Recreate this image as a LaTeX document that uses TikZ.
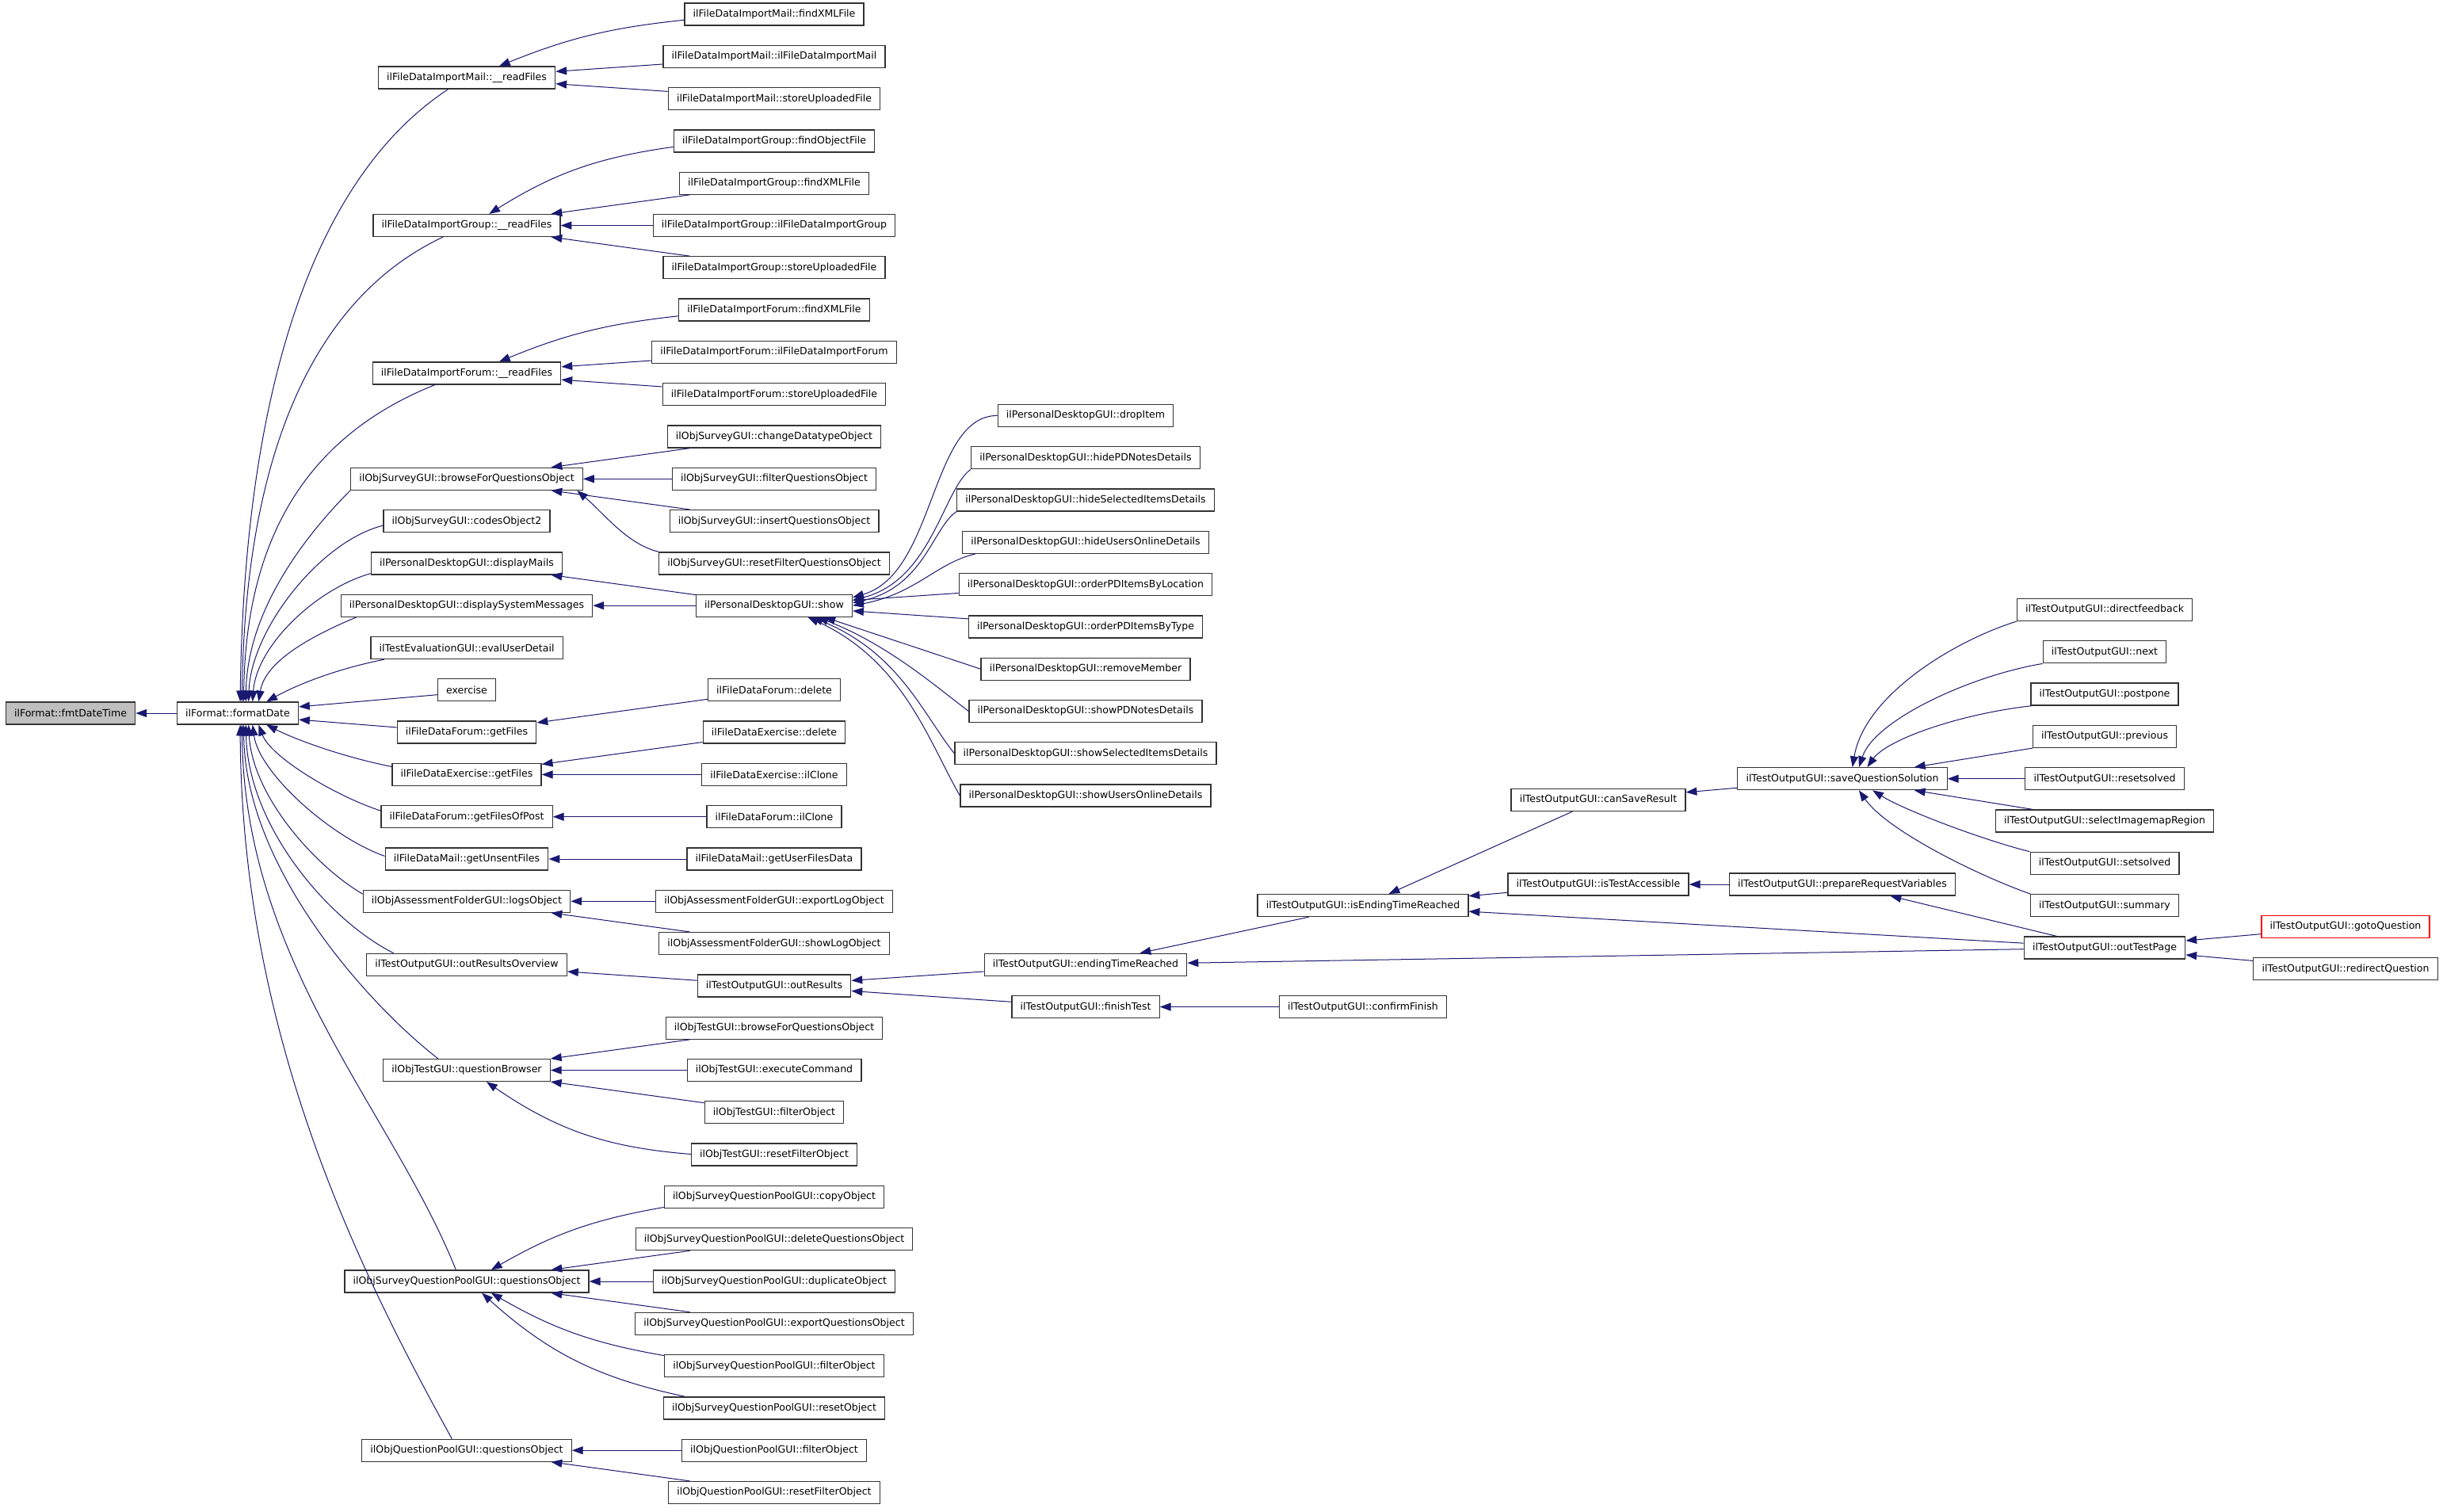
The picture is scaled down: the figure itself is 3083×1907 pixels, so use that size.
\documentclass[tikz,border=0pt]{standalone}
\usepackage{fontspec}
\setmainfont{DejaVu Sans}
\usetikzlibrary{arrows.meta}
\definecolor{edgeblue}{HTML}{191970}

\tikzset{
  fn/.style={draw=black!80, line width=1pt, fill=white, minimum height=0.784cm,
    inner xsep=8.5pt, inner ysep=0pt, font=\fontsize{10}{12}\selectfont},
  fnroot/.style={fn, fill=black!25},
  fnlink/.style={fn, draw=red},
  call/.style={->, draw=edgeblue, line width=0.8pt},
}

\begin{document}
\begin{tikzpicture}[x=0.028cm, y=-0.028cm, >={Triangle[length=11pt,width=8pt]}]
    \useasboundingbox (0,0) rectangle (3083,1907);

    % The function itself and its only caller
    \node[fnroot] (fmtDateTime) at (89,900) {ilFormat::fmtDateTime};
    \node[fn] (formatDate) at (300,900) {ilFormat::formatDate};

    % Callers of formatDate
    \node[fn] (readMail) at (589,98) {ilFileDataImportMail::\_\_readFiles};
    \node[fn] (readGroup) at (589,284.5) {ilFileDataImportGroup::\_\_readFiles};
    \node[fn] (readForum) at (589,471) {ilFileDataImportForum::\_\_readFiles};
    \node[fn] (browseSurvey) at (589,604.3) {ilObjSurveyGUI::browseForQuestionsObject};
    \node[fn] (codesObject) at (589,657.6) {ilObjSurveyGUI::codesObject2};
    \node[fn] (displayMails) at (589,710.9) {ilPersonalDesktopGUI::displayMails};
    \node[fn] (displaySysMsg) at (589,764.2) {ilPersonalDesktopGUI::displaySystemMessages};
    \node[fn] (evalUserDetail) at (589,817.5) {ilTestEvaluationGUI::evalUserDetail};
    \node[fn] (exercise) at (589,870.8) {exercise};
    \node[fn] (forumGetFiles) at (589,924.1) {ilFileDataForum::getFiles};
    \node[fn] (exGetFiles) at (589,977.4) {ilFileDataExercise::getFiles};
    \node[fn] (getFilesOfPost) at (589,1030.7) {ilFileDataForum::getFilesOfPost};
    \node[fn] (getUnsentFiles) at (589,1084) {ilFileDataMail::getUnsentFiles};
    \node[fn] (logsObject) at (589,1137.3) {ilObjAssessmentFolderGUI::logsObject};
    \node[fn] (outResultsOverview) at (589,1217.3) {ilTestOutputGUI::outResultsOverview};
    \node[fn] (questionBrowser) at (589,1350.5) {ilObjTestGUI::questionBrowser};
    \node[fn] (sqpQuestions) at (589,1617) {ilObjSurveyQuestionPoolGUI::questionsObject};
    \node[fn] (qpQuestions) at (589,1830.2) {ilObjQuestionPoolGUI::questionsObject};

    % Third column
    \node[fn] (mailFindXML) at (977,18) {ilFileDataImportMail::findXMLFile};
    \node[fn] (mailCtor) at (977,71.3) {ilFileDataImportMail::ilFileDataImportMail};
    \node[fn] (mailStore) at (977,124.6) {ilFileDataImportMail::storeUploadedFile};
    \node[fn] (groupFindObject) at (977,177.9) {ilFileDataImportGroup::findObjectFile};
    \node[fn] (groupFindXML) at (977,231.2) {ilFileDataImportGroup::findXMLFile};
    \node[fn] (groupCtor) at (977,284.5) {ilFileDataImportGroup::ilFileDataImportGroup};
    \node[fn] (groupStore) at (977,337.8) {ilFileDataImportGroup::storeUploadedFile};
    \node[fn] (forumFindXML) at (977,391.1) {ilFileDataImportForum::findXMLFile};
    \node[fn] (forumCtor) at (977,444.4) {ilFileDataImportForum::ilFileDataImportForum};
    \node[fn] (forumStore) at (977,497.7) {ilFileDataImportForum::storeUploadedFile};
    \node[fn] (changeDatatype) at (977,551) {ilObjSurveyGUI::changeDatatypeObject};
    \node[fn] (filterQuestions) at (977,604.3) {ilObjSurveyGUI::filterQuestionsObject};
    \node[fn] (insertQuestions) at (977,657.6) {ilObjSurveyGUI::insertQuestionsObject};
    \node[fn] (resetFilterQuestions) at (977,710.9) {ilObjSurveyGUI::resetFilterQuestionsObject};
    \node[fn] (show) at (977,764.2) {ilPersonalDesktopGUI::show};
    \node[fn] (forumDelete) at (977,870.8) {ilFileDataForum::delete};
    \node[fn] (exDelete) at (977,924.1) {ilFileDataExercise::delete};
    \node[fn] (exClone) at (977,977.4) {ilFileDataExercise::ilClone};
    \node[fn] (forumClone) at (977,1030.7) {ilFileDataForum::ilClone};
    \node[fn] (getUserFilesData) at (977,1084) {ilFileDataMail::getUserFilesData};
    \node[fn] (exportLog) at (977,1137.3) {ilObjAssessmentFolderGUI::exportLogObject};
    \node[fn] (showLog) at (977,1190.6) {ilObjAssessmentFolderGUI::showLogObject};
    \node[fn] (outResults) at (977,1243.9) {ilTestOutputGUI::outResults};
    \node[fn] (testBrowse) at (977,1297.2) {ilObjTestGUI::browseForQuestionsObject};
    \node[fn] (testExecute) at (977,1350.5) {ilObjTestGUI::executeCommand};
    \node[fn] (testFilter) at (977,1403.8) {ilObjTestGUI::filterObject};
    \node[fn] (testResetFilter) at (977,1457.1) {ilObjTestGUI::resetFilterObject};
    \node[fn] (sqpCopy) at (977,1510.4) {ilObjSurveyQuestionPoolGUI::copyObject};
    \node[fn] (sqpDelete) at (977,1563.7) {ilObjSurveyQuestionPoolGUI::deleteQuestionsObject};
    \node[fn] (sqpDuplicate) at (977,1617) {ilObjSurveyQuestionPoolGUI::duplicateObject};
    \node[fn] (sqpExport) at (977,1670.3) {ilObjSurveyQuestionPoolGUI::exportQuestionsObject};
    \node[fn] (sqpFilter) at (977,1723.6) {ilObjSurveyQuestionPoolGUI::filterObject};
    \node[fn] (sqpReset) at (977,1776.9) {ilObjSurveyQuestionPoolGUI::resetObject};
    \node[fn] (qpFilter) at (977,1830.2) {ilObjQuestionPoolGUI::filterObject};
    \node[fn] (qpResetFilter) at (977,1883.5) {ilObjQuestionPoolGUI::resetFilterObject};

    % Fourth column
    \node[fn] (dropItem) at (1370,524.4) {ilPersonalDesktopGUI::dropItem};
    \node[fn] (hidePDNotes) at (1370,577.7) {ilPersonalDesktopGUI::hidePDNotesDetails};
    \node[fn] (hideSelected) at (1370,631) {ilPersonalDesktopGUI::hideSelectedItemsDetails};
    \node[fn] (hideUsers) at (1370,684.3) {ilPersonalDesktopGUI::hideUsersOnlineDetails};
    \node[fn] (orderLocation) at (1370,737.6) {ilPersonalDesktopGUI::orderPDItemsByLocation};
    \node[fn] (orderType) at (1370,790.9) {ilPersonalDesktopGUI::orderPDItemsByType};
    \node[fn] (removeMember) at (1370,844.2) {ilPersonalDesktopGUI::removeMember};
    \node[fn] (showPDNotes) at (1370,897.5) {ilPersonalDesktopGUI::showPDNotesDetails};
    \node[fn] (showSelected) at (1370,950.8) {ilPersonalDesktopGUI::showSelectedItemsDetails};
    \node[fn] (showUsers) at (1370,1004) {ilPersonalDesktopGUI::showUsersOnlineDetails};
    \node[fn] (endingTime) at (1370,1217.3) {ilTestOutputGUI::endingTimeReached};
    \node[fn] (finishTest) at (1370,1270.6) {ilTestOutputGUI::finishTest};

    % Test output chain on the right
    \node[fn] (isEndingTime) at (1720,1142.6) {ilTestOutputGUI::isEndingTimeReached};
    \node[fn] (confirmFinish) at (1720,1270.6) {ilTestOutputGUI::confirmFinish};
    \node[fn] (canSave) at (2017,1009.4) {ilTestOutputGUI::canSaveResult};
    \node[fn] (isAccessible) at (2017,1116) {ilTestOutputGUI::isTestAccessible};
    \node[fn] (saveSolution) at (2325,982.7) {ilTestOutputGUI::saveQuestionSolution};
    \node[fn] (prepareVars) at (2325,1116) {ilTestOutputGUI::prepareRequestVariables};
    \node[fn] (directfeedback) at (2656,769.5) {ilTestOutputGUI::directfeedback};
    \node[fn] (next) at (2656,822.8) {ilTestOutputGUI::next};
    \node[fn] (postpone) at (2656,876.1) {ilTestOutputGUI::postpone};
    \node[fn] (previous) at (2656,929.4) {ilTestOutputGUI::previous};
    \node[fn] (resetsolved) at (2656,982.7) {ilTestOutputGUI::resetsolved};
    \node[fn] (selectRegion) at (2656,1036) {ilTestOutputGUI::selectImagemapRegion};
    \node[fn] (setsolved) at (2656,1089.3) {ilTestOutputGUI::setsolved};
    \node[fn] (summary) at (2656,1142.6) {ilTestOutputGUI::summary};
    \node[fn] (outTestPage) at (2656,1196) {ilTestOutputGUI::outTestPage};
    \node[fnlink] (gotoQuestion) at (2960,1169.3) {ilTestOutputGUI::gotoQuestion};
    \node[fn] (redirectQuestion) at (2960,1222.6) {ilTestOutputGUI::redirectQuestion};

    % Calls into fmtDateTime and formatDate
    \draw[call] (formatDate) -- (fmtDateTime);
    \draw[call] (readMail.212) .. controls +(-175,115) and +(5,-380) .. (formatDate.78);
    \draw[call] (readGroup.206) .. controls +(-170,80) and +(4,-300) .. (formatDate.70);
    \draw[call] (readForum.200) .. controls +(-150,60) and +(3,-220) .. (formatDate.63);
    \draw[call] (browseSurvey.south west) .. controls +(-50,50) and +(2,-120) .. (formatDate.55);
    \draw[call] (codesObject.183) .. controls +(-80,20) and +(3,-90) .. (formatDate.47);
    \draw[call] (displayMails.186) .. controls +(-70,20) and +(5,-70) .. (formatDate.38);
    \draw[call] (displaySysMsg.186) .. controls +(-60,25) and +(8,-50) .. (formatDate.29);
    \draw[call] (evalUserDetail.188) .. controls +(-60,12) and +(40,-22) .. (formatDate.22);
    \draw[call] (exercise.189) -- (formatDate.6);
    \draw[call] (forumGetFiles.176) -- (formatDate.354);
    \draw[call] (exGetFiles.174) .. controls +(-60,-12) and +(40,20) .. (formatDate.338);
    \draw[call] (getFilesOfPost.176) .. controls +(-60,-20) and +(15,40) .. (formatDate.331);
    \draw[call] (getUnsentFiles.178) .. controls +(-70,-25) and +(8,60) .. (formatDate.322);
    \draw[call] (logsObject.176) .. controls +(-60,-35) and +(5,90) .. (formatDate.313);
    \draw[call] (outResultsOverview.171) .. controls +(-80,-40) and +(3,130) .. (formatDate.305);
    \draw[call] (questionBrowser.158) .. controls +(-90,-70) and +(2,180) .. (formatDate.297);
    \draw[call] (sqpQuestions.133) .. controls +(-80,-200) and +(3,300) .. (formatDate.290);
    \draw[call] (qpQuestions.142) .. controls +(-110,-200) and +(2,400) .. (formatDate.282);

    % Calls into the second column
    \draw[call] (mailFindXML) to[bend right=8] (readMail);
    \draw[call] (mailCtor) -- (readMail);
    \draw[call] (mailStore) -- (readMail);
    \draw[call] (groupFindObject) to[bend right=12] (readGroup);
    \draw[call] (groupFindXML) -- (readGroup);
    \draw[call] (groupCtor) -- (readGroup);
    \draw[call] (groupStore) -- (readGroup);
    \draw[call] (forumFindXML) to[bend right=8] (readForum);
    \draw[call] (forumCtor) -- (readForum);
    \draw[call] (forumStore) -- (readForum);
    \draw[call] (changeDatatype) -- (browseSurvey);
    \draw[call] (filterQuestions) -- (browseSurvey);
    \draw[call] (insertQuestions) -- (browseSurvey);
    \draw[call] (resetFilterQuestions.north west) .. controls +(-40,-10) and +(35,30) .. (browseSurvey.354);
    \draw[call] (show) -- (displayMails);
    \draw[call] (show) -- (displaySysMsg);
    \draw[call] (forumDelete) -- (forumGetFiles);
    \draw[call] (exDelete) -- (exGetFiles);
    \draw[call] (exClone) -- (exGetFiles);
    \draw[call] (forumClone) -- (getFilesOfPost);
    \draw[call] (getUserFilesData) -- (getUnsentFiles);
    \draw[call] (exportLog) -- (logsObject);
    \draw[call] (showLog) -- (logsObject);
    \draw[call] (outResults) -- (outResultsOverview);
    \draw[call] (testBrowse) -- (questionBrowser);
    \draw[call] (testExecute) -- (questionBrowser);
    \draw[call] (testFilter) -- (questionBrowser);
    \draw[call] (testResetFilter) to[bend left=15] (questionBrowser);
    \draw[call] (sqpCopy) to[bend right=10] (sqpQuestions);
    \draw[call] (sqpDelete) -- (sqpQuestions);
    \draw[call] (sqpDuplicate) -- (sqpQuestions);
    \draw[call] (sqpExport) -- (sqpQuestions);
    \draw[call] (sqpFilter) to[bend left=10] (sqpQuestions);
    \draw[call] (sqpReset) to[bend left=15] (sqpQuestions);
    \draw[call] (qpFilter) -- (qpQuestions);
    \draw[call] (qpResetFilter) -- (qpQuestions);

    % Calls into show
    \draw[call] (dropItem.west) .. controls +(-85,0) and +(105,-30) .. (show.6);
    \draw[call] (hidePDNotes.south west) .. controls +(-35,25) and +(100,-25) .. (show.4);
    \draw[call] (hideSelected.south west) .. controls +(-30,20) and +(90,-20) .. (show.2);
    \draw[call] (hideUsers.186) .. controls +(-50,12) and +(80,-15) .. (show.0);
    \draw[call] (orderLocation) -- (show);
    \draw[call] (orderType) -- (show);
    \draw[call] (removeMember.west) -- (show.347);
    \draw[call] (showPDNotes.west) .. controls +(-40,-30) and +(90,35) .. (show.345);
    \draw[call] (showSelected.west) .. controls +(-40,-50) and +(110,45) .. (show.343);
    \draw[call] (showUsers.west) .. controls +(-40,-70) and +(120,55) .. (show.341);

    % Test output calls
    \draw[call] (endingTime) -- (outResults);
    \draw[call] (finishTest) -- (outResults);
    \draw[call] (confirmFinish) -- (finishTest);
    \draw[call] (isEndingTime) -- (endingTime);
    \draw[call] (outTestPage) -- (endingTime);
    \draw[call] (canSave) -- (isEndingTime);
    \draw[call] (isAccessible) -- (isEndingTime);
    \draw[call] (outTestPage) -- (isEndingTime);
    \draw[call] (prepareVars) -- (isAccessible);
    \draw[call] (outTestPage) -- (prepareVars);
    \draw[call] (saveSolution) -- (canSave);
    \draw[call] (directfeedback.south west) .. controls +(-80,25) and +(15,-90) .. (saveSolution.49);
    \draw[call] (next.south west) .. controls +(-90,15) and +(20,-60) .. (saveSolution.35);
    \draw[call] (postpone.189) .. controls +(-90,10) and +(25,-35) .. (saveSolution.25);
    \draw[call] (previous) -- (saveSolution);
    \draw[call] (resetsolved) -- (saveSolution);
    \draw[call] (selectRegion) -- (saveSolution);
    \draw[call] (setsolved.north west) .. controls +(-60,-15) and +(40,25) .. (saveSolution.339);
    \draw[call] (summary.north west) .. controls +(-70,-25) and +(35,50) .. (saveSolution.325);
    \draw[call] (gotoQuestion) -- (outTestPage);
    \draw[call] (redirectQuestion) -- (outTestPage);
\end{tikzpicture}
\end{document}
